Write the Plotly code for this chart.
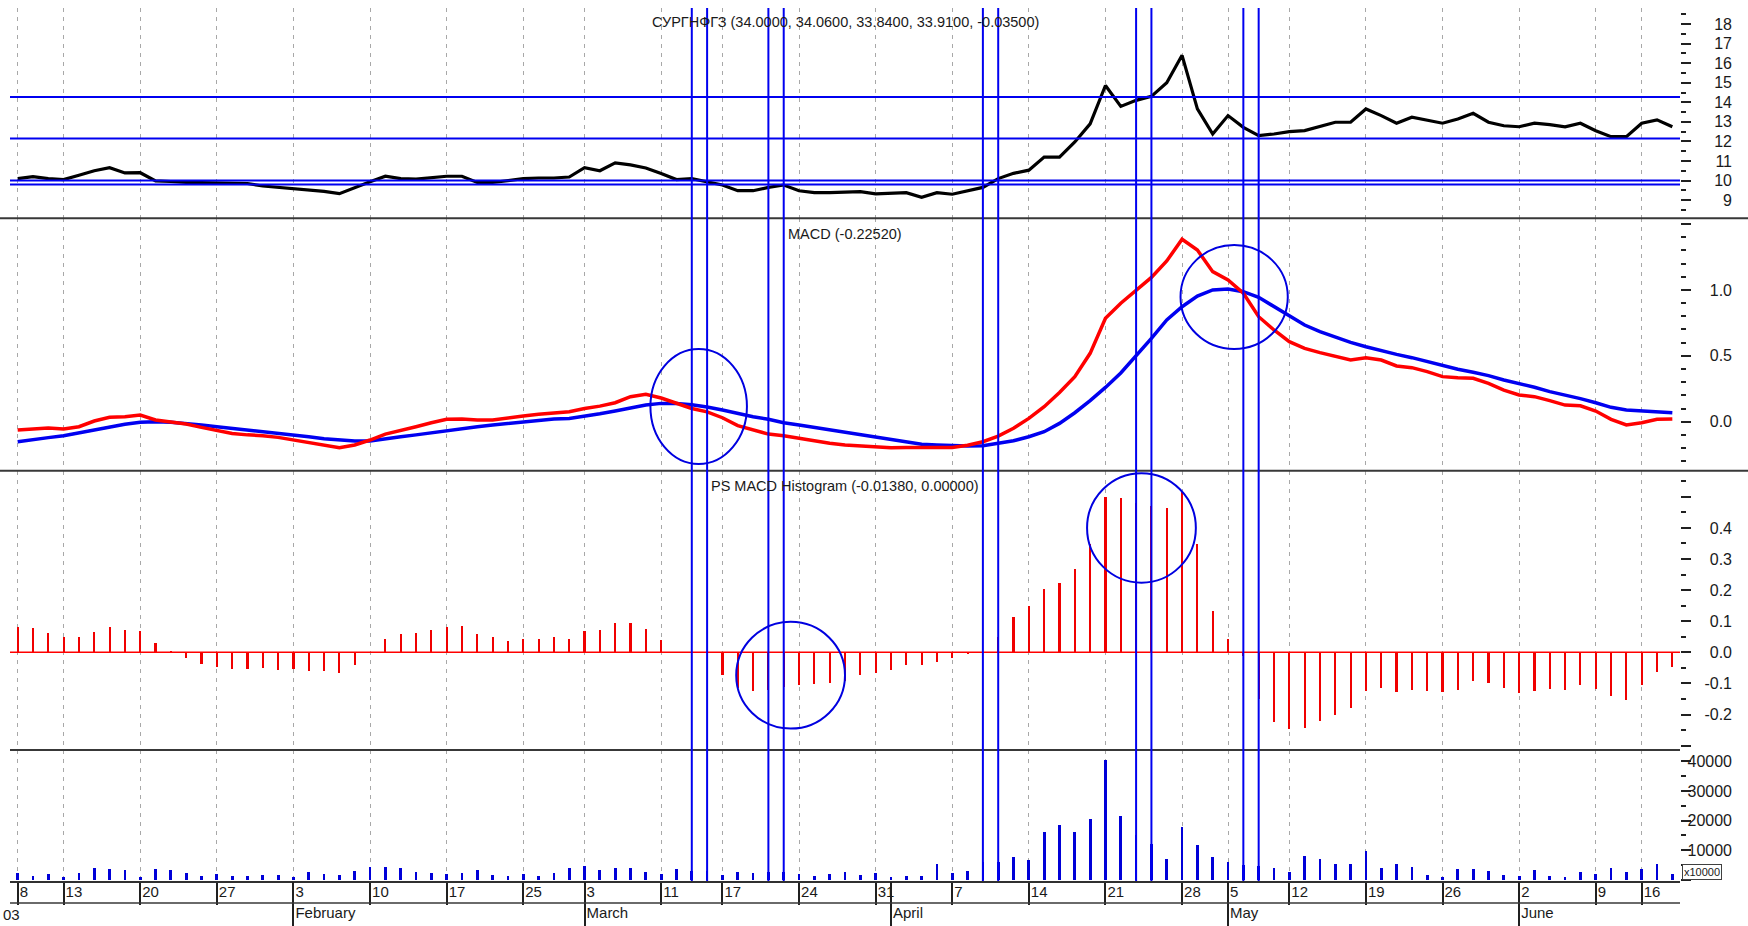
import plotly.graph_objects as go

# ---------------- data ----------------
jan_days = [8, 9, 10, 13, 14, 15, 16, 17, 20, 21, 22, 23, 24, 27, 28, 29, 30, 31]
feb_days = [3, 4, 5, 6, 7, 10, 11, 12, 13, 14, 17, 18, 19, 20, 21, 25, 26, 27, 28]
mar_days = [3, 4, 5, 6, 7, 11, 12, 13, 14, 17, 18, 19, 20, 21, 24, 25, 26, 27, 28, 31]
apr_days = [1, 2, 3, 4, 7, 8, 9, 10, 11, 14, 15, 16, 17, 18, 21, 22, 23, 24, 25, 28, 29, 30]
may_days = [5, 6, 7, 8, 12, 13, 14, 15, 16, 19, 20, 21, 22, 23, 26, 27, 28, 29, 30]
jun_days = [2, 3, 4, 5, 6, 9, 10, 11, 16, 17, 18]

dates = ([f"2003-01-{d:02d}" for d in jan_days] + [f"2003-02-{d:02d}" for d in feb_days] +
         [f"2003-03-{d:02d}" for d in mar_days] + [f"2003-04-{d:02d}" for d in apr_days] +
         [f"2003-05-{d:02d}" for d in may_days] + [f"2003-06-{d:02d}" for d in jun_days])

price = [10.1, 10.2, 10.1, 10.05, 10.27, 10.5, 10.66, 10.39, 10.4, 9.98,
         9.95, 9.9, 9.9, 9.88, 9.88, 9.85, 9.72, 9.65, 9.62, 9.55,
         9.45, 9.33, 9.65, 9.94, 10.22, 10.1, 10.07, 10.13, 10.22, 10.22,
         9.9, 9.9, 10.0, 10.1, 10.13, 10.13, 10.18, 10.66, 10.5, 10.9,
         10.8, 10.64, 10.36, 10.05, 10.1, 9.93, 9.77, 9.48, 9.48, 9.65,
         9.77, 9.48, 9.38, 9.38, 9.4, 9.43, 9.32, 9.35, 9.38, 9.14,
         9.38, 9.3, 9.48, 9.65, 10.1, 10.37, 10.53, 11.2, 11.2, 11.97,
         12.9, 14.86, 13.79, 14.1, 14.3, 15.0, 16.4, 13.66, 12.38, 13.32,
         12.72, 12.3, 12.38, 12.5, 12.55, 12.75, 12.98, 12.98, 13.66, 13.32,
         12.93, 13.24, 13.07, 12.93, 13.15, 13.44, 12.98, 12.8, 12.75, 12.93,
         12.86, 12.75, 12.93, 12.55, 12.24, 12.24, 12.93, 13.1, 12.75]

macd = [-0.063, -0.056, -0.048, -0.056, -0.038, 0.005, 0.033, 0.038, 0.05, 0.013,
        -0.005, -0.018, -0.043, -0.068, -0.089, -0.1, -0.106, -0.119, -0.139, -0.159,
        -0.179, -0.197, -0.177, -0.139, -0.094, -0.063, -0.038, -0.008, 0.018, 0.02,
        0.013, 0.013, 0.025, 0.043, 0.056, 0.063, 0.076, 0.1, 0.118, 0.144,
        0.19, 0.208, 0.18, 0.14, 0.1, 0.075, 0.03, -0.03, -0.065, -0.094,
        -0.106, -0.126, -0.144, -0.164, -0.177, -0.184, -0.19, -0.197, -0.195, -0.197,
        -0.197, -0.195, -0.179, -0.152, -0.109, -0.05, 0.025, 0.114, 0.221, 0.342,
        0.519, 0.785, 0.899, 1.0, 1.095, 1.22, 1.385, 1.303, 1.139, 1.076,
        0.975, 0.797, 0.696, 0.607, 0.557, 0.524, 0.494, 0.468, 0.486, 0.468,
        0.423, 0.41, 0.38, 0.342, 0.334, 0.329, 0.291, 0.24, 0.203, 0.19,
        0.16, 0.126, 0.121, 0.081, 0.018, -0.025, -0.008, 0.018, 0.02]

signal = [-0.152, -0.134, -0.121, -0.106, -0.083, -0.063, -0.038, -0.02, -0.005, 0.0,
          -0.005, -0.013, -0.025, -0.038, -0.05, -0.063, -0.076, -0.089, -0.1, -0.114,
          -0.129, -0.139, -0.147, -0.147, -0.129, -0.114, -0.1, -0.083, -0.068, -0.053,
          -0.038, -0.025, -0.013, 0.0, 0.013, 0.02, 0.025, 0.04, 0.06, 0.081,
          0.101, 0.126, 0.139, 0.139, 0.128, 0.112, 0.089, 0.063, 0.038, 0.018,
          -0.008, -0.025, -0.043, -0.063, -0.083, -0.1, -0.119, -0.139, -0.157, -0.172,
          -0.177, -0.182, -0.184, -0.182, -0.165, -0.145, -0.114, -0.076, -0.013, 0.068,
          0.16, 0.26, 0.37, 0.5, 0.633, 0.772, 0.873, 0.954, 1.0, 1.007,
          0.987, 0.944, 0.873, 0.802, 0.734, 0.683, 0.64, 0.602, 0.569, 0.539,
          0.511, 0.486, 0.456, 0.423, 0.398, 0.375, 0.35, 0.317, 0.291, 0.261,
          0.228, 0.203, 0.175, 0.144, 0.109, 0.089, 0.084, 0.076, 0.068]

hist = [0.081, 0.078, 0.063, 0.051, 0.049, 0.067, 0.081, 0.072, 0.069, 0.03,
        0.004, -0.018, -0.035, -0.046, -0.051, -0.051, -0.049, -0.056, -0.052, -0.059,
        -0.059, -0.065, -0.041, 0.0, 0.043, 0.059, 0.063, 0.072, 0.081, 0.085,
        0.059, 0.051, 0.038, 0.043, 0.043, 0.051, 0.043, 0.068, 0.072, 0.094,
        0.094, 0.075, 0.041, 0.002, 0.0, 0.0, -0.072, -0.114, -0.124, -0.12,
        -0.11, -0.103, -0.1, -0.097, -0.09, -0.072, -0.065, -0.056, -0.041, -0.041,
        -0.029, -0.018, -0.005, 0.0, 0.05, 0.114, 0.149, 0.205, 0.225, 0.27,
        0.349, 0.5, 0.497, 0.48, 0.47, 0.465, 0.519, 0.349, 0.135, 0.043,
        -0.01, -0.15, -0.222, -0.245, -0.241, -0.219, -0.2, -0.178, -0.122, -0.114,
        -0.126, -0.119, -0.122, -0.128, -0.119, -0.09, -0.097, -0.114, -0.13, -0.122,
        -0.116, -0.119, -0.105, -0.116, -0.141, -0.151, -0.105, -0.063, -0.046]

volume = [2400, 1300, 1900, 1100, 2400, 4100, 3500, 3200, 1100, 3500,
          3200, 2200, 1300, 1900, 1300, 1300, 1500, 1500, 800, 2600,
          1900, 1500, 3000, 4400, 4400, 4100, 2800, 2200, 1900, 2200,
          3200, 1500, 1300, 1900, 1300, 2200, 4100, 4600, 3200, 4100,
          4100, 2600, 2100, 3500, 3000, 3000, 1500, 2800, 2400, 2500,
          2500, 2100, 1300, 1900, 2800, 1500, 2400, 1100, 1300, 1300,
          5200, 2400, 3000, 6000, 6000, 7600, 6600, 16100, 18400, 16100,
          20600, 40500, 21400, 15000, 12000, 7100, 17900, 11600, 7700, 6000,
          5000, 4500, 4100, 2600, 7900, 7100, 5500, 5500, 9800, 3900,
          5200, 4400, 1700, 1100, 3500, 3500, 3000, 1700, 1300, 3300,
          1300, 800, 2600, 1900, 4100, 2600, 3500, 5500, 2100]

week_ticks = ["2003-01-08", "2003-01-13", "2003-01-20", "2003-01-27", "2003-02-03", "2003-02-10",
              "2003-02-17", "2003-02-25", "2003-03-03", "2003-03-11", "2003-03-17", "2003-03-24",
              "2003-03-31", "2003-04-07", "2003-04-14", "2003-04-21", "2003-04-28", "2003-05-05",
              "2003-05-12", "2003-05-19", "2003-05-26", "2003-06-02", "2003-06-09", "2003-06-16"]
month_ticks = ["2003-02-03", "2003-03-03", "2003-04-01", "2003-05-05", "2003-06-02"]
month_names = ["February", "March", "April", "May", "June"]
year_label = "03"
marker_dates = ["2003-03-13", "2003-03-14", "2003-03-20", "2003-03-21", "2003-04-09",
                "2003-04-10", "2003-04-23", "2003-04-24", "2003-05-06", "2003-05-07"]
price_levels = [14.27, 12.15, 10.0, 9.8]
price_ticks = [9, 10, 11, 12, 13, 14, 15, 16, 17, 18]
macd_ticks = [0.0, 0.5, 1.0]
hist_ticks = [-0.2, -0.1, 0.0, 0.1, 0.2, 0.3, 0.4]
vol_ticks = [10000, 20000, 30000, 40000]

title_price = "СУРГНФГЗ (34.0000, 34.0600, 33.8400, 33.9100, -0.03500)"
title_macd = "MACD (-0.22520)"
title_hist = "PS MACD Histogram (-0.01380, 0.00000)"

# ---------------- layout geometry ----------------
W, H = 1748, 926
ML, MR, MT, MB = 10, 13, 8, 45
PW, PH = W - ML - MR, H - MT - MB
XEND = (1680 - ML) / PW
FONT = "Liberation Sans, Arial, sans-serif"
TXT = "#1a1a1a"
BLUE = "#0000f0"
RED = "#ff0000"
F_TICK, F_DATE, F_TITLE = 16, 15, 14.5


def yp(px):
    return 1 - (px - MT) / PH


def xp(px):
    return (px - ML) / PW


idx = list(range(len(dates)))
xr = [-0.5, len(dates) - 0.5]
wk = [dates.index(d) for d in week_ticks]
wk_txt = [str(int(d[-2:])) for d in week_ticks]
mo = [dates.index(d) for d in month_ticks]

fig = go.Figure()
fig.add_trace(go.Bar(x=idx, y=volume, xaxis="x4", yaxis="y4", width=0.18,
                     marker=dict(color="#0000d8", line=dict(width=0))))
fig.add_trace(go.Bar(x=idx, y=hist, xaxis="x3", yaxis="y3", width=0.14,
                     marker=dict(color="#f00000", line=dict(width=0))))
fig.add_trace(go.Scatter(x=idx, y=signal, xaxis="x2", yaxis="y2", mode="lines",
                         line=dict(color=BLUE, width=3.5)))
fig.add_trace(go.Scatter(x=idx, y=macd, xaxis="x2", yaxis="y2", mode="lines",
                         line=dict(color=RED, width=3.5)))
fig.add_trace(go.Scatter(x=idx, y=price, xaxis="x", yaxis="y", mode="lines",
                         line=dict(color="black", width=3.2)))
# dummy traces for label axes
for ya in ["y5", "y6", "y7", "y8"]:
    fig.add_trace(go.Scatter(x=[None], y=[None], xaxis="x", yaxis=ya, showlegend=False))
for xa in ["x5", "x6", "x7"]:
    fig.add_trace(go.Scatter(x=[None], y=[None], xaxis=xa, yaxis="y4", showlegend=False))

grid = dict(range=xr, domain=[0, XEND], tickmode="array", tickvals=wk, showgrid=True,
            gridcolor="#a8a8a8", griddash="4px,5px", gridwidth=1, zeroline=False,
            showticklabels=False, ticks="", fixedrange=True, automargin=False)

doms = {"y": [yp(218.3), 1], "y2": [yp(470.7), yp(218.3)],
        "y3": [yp(750), yp(470.7)], "y4": [0, yp(750)]}
ranges = {"y": [8.07, 18.82], "y2": [-0.372, 1.544], "y3": [-0.314, 0.584], "y4": [-400, 43800]}
dticks = {"y": (1, 0.5), "y2": (0.5, 0.1), "y3": (0.1, 0.05), "y4": (10000, 5000)}
labels = {"y": (price_ticks, [str(v) for v in price_ticks]),
          "y2": (macd_ticks, [f"{v:.1f}" for v in macd_ticks]),
          "y3": (hist_ticks, [f"{v:.1f}" for v in hist_ticks]),
          "y4": (vol_ticks, [str(v) for v in vol_ticks])}

lay = dict(template="none", width=W, height=H, margin=dict(l=ML, r=MR, t=MT, b=MB, autoexpand=False),
           paper_bgcolor="white", plot_bgcolor="white", showlegend=False,
           hovermode=False, bargap=0, font=dict(family=FONT, size=F_TICK, color=TXT))

for k, (xa, ya) in enumerate([("xaxis", "y"), ("xaxis2", "y2"), ("xaxis3", "y3"), ("xaxis4", "y4")]):
    d = dict(grid)
    d["anchor"] = ya
    if xa == "xaxis4":
        d.update(ticks="outside", ticklen=22, tickwidth=1.5, tickcolor="#202020",
                 showline=True, linecolor="#303030", linewidth=2)
    else:
        d.update(showline=False)
    lay[xa] = d

for n, ya in enumerate(["y", "y2", "y3", "y4"]):
    key = "yaxis" if ya == "y" else "yaxis" + ya[1:]
    xa = "x" if ya == "y" else "x" + ya[1:]
    maj, mnr = dticks[ya]
    lay[key] = dict(domain=doms[ya], range=ranges[ya], anchor=xa, side="right",
                    ticks="outside", ticklen=10, tickwidth=1.5, tickcolor="#202020",
                    tick0=0, dtick=maj, showticklabels=False, showgrid=False,
                    zeroline=False, showline=False, fixedrange=True, automargin=False,
                    minor=dict(ticks="outside", ticklen=5, tickwidth=1.5,
                               tickcolor="#202020", dtick=mnr, tick0=0, showgrid=False))
    tv, tt = labels[ya]
    lay["yaxis" + str(5 + n)] = dict(overlaying=ya, anchor="free", position=xp(1732), side="left",
                                     range=ranges[ya], tickmode="array", tickvals=tv, ticktext=tt,
                                     ticks="", showgrid=False, zeroline=False, showline=False,
                                     tickfont=dict(size=F_TICK, color=TXT, family=FONT),
                                     fixedrange=True, automargin=False)

lay["xaxis5"] = dict(overlaying="x4", anchor="y4", range=xr, tickmode="array", tickvals=wk,
                     ticktext=wk_txt, ticks="", showgrid=False, zeroline=False, showline=False,
                     ticklabelposition="outside right", ticklabelshift=2, automargin=False,
                     tickfont=dict(size=F_DATE, color=TXT, family=FONT))
lay["xaxis6"] = dict(overlaying="x4", anchor="y4", range=xr, tickmode="array", tickvals=mo,
                     ticks="outside", ticklen=45, tickwidth=1.5, tickcolor="#202020", automargin=False,
                     showticklabels=False, showgrid=False, zeroline=False, showline=False)
lay["xaxis7"] = dict(overlaying="x4", anchor="y4", range=xr, tickmode="array", tickvals=mo,
                     ticktext=month_names, ticks="", showgrid=False, zeroline=False, showline=False,
                     ticklabelposition="outside right", ticklabelshift=2, ticklabelstandoff=21,
                     automargin=False, tickfont=dict(size=F_DATE, color=TXT, family=FONT))

shapes = []
# panel separators
for py_, full in [(218.3, True), (470.7, True), (750, False)]:
    shapes.append(dict(type="line", xref="paper", yref="paper",
                       x0=xp(0) if full else 0, x1=xp(W) if full else XEND,
                       y0=yp(py_), y1=yp(py_), line=dict(color="#383838", width=2)))
shapes.append(dict(type="line", xref="paper", yref="paper", x0=0, x1=XEND,
                   y0=yp(903), y1=yp(903), line=dict(color="#383838", width=1.5)))
# zero lines
shapes.append(dict(type="line", xref="x2 domain", yref="y2", x0=0, x1=1, y0=0, y1=0,
                   line=dict(color=BLUE, width=1.5), layer="below"))
shapes.append(dict(type="line", xref="x3 domain", yref="y3", x0=0, x1=1, y0=0, y1=0,
                   line=dict(color=RED, width=1.5)))
# horizontal price levels
for lv in price_levels:
    shapes.append(dict(type="line", xref="x domain", yref="y", x0=0, x1=1, y0=lv, y1=lv,
                       line=dict(color=BLUE, width=2)))
# vertical marker lines
for d in marker_dates:
    i = dates.index(d)
    shapes.append(dict(type="line", xref="x", yref="paper", x0=i, x1=i, y0=0, y1=yp(8),
                       line=dict(color=BLUE, width=2)))
# circles
circles = [("x2", "y2", 41.3, 47.6, -0.321, 0.552),
           ("x2", "y2", 75.9, 82.9, 0.552, 1.342),
           ("x3", "y3", 46.9, 54.0, -0.245, 0.098),
           ("x3", "y3", 69.8, 76.9, 0.224, 0.576)]
for xa, ya, a, b, c, e in circles:
    shapes.append(dict(type="circle", xref=xa, yref=ya, x0=a, x1=b, y0=c, y1=e,
                       line=dict(color="#0000e0", width=2)))
lay["shapes"] = shapes

ann = []
for txt, pyc, xa in [(title_price, 22, "x domain"), (title_macd, 234, "x2 domain"),
                     (title_hist, 486, "x3 domain")]:
    ann.append(dict(text=txt, xref=xa, yref="paper", x=0.5, y=yp(pyc), showarrow=False,
                    xanchor="center", yanchor="middle",
                    font=dict(size=F_TITLE, color=TXT, family=FONT)))
ann.append(dict(text="x10000", xref="paper", yref="paper", x=xp(1702), y=yp(872), showarrow=False,
                xanchor="center", yanchor="middle", font=dict(size=11, color=TXT, family=FONT),
                bordercolor="#404040", borderwidth=1, borderpad=1, bgcolor="white"))
ann.append(dict(text=year_label, xref="paper", yref="paper", x=xp(0.5), y=yp(914), showarrow=False,
                xanchor="left", yanchor="middle", font=dict(size=F_DATE, color=TXT, family=FONT)))
lay["annotations"] = ann

fig.update_layout(**lay)
fig.write_html("out.html", config={"displayModeBar": False},
               post_script="document.body.style.margin='0';document.body.style.overflow='hidden';")
